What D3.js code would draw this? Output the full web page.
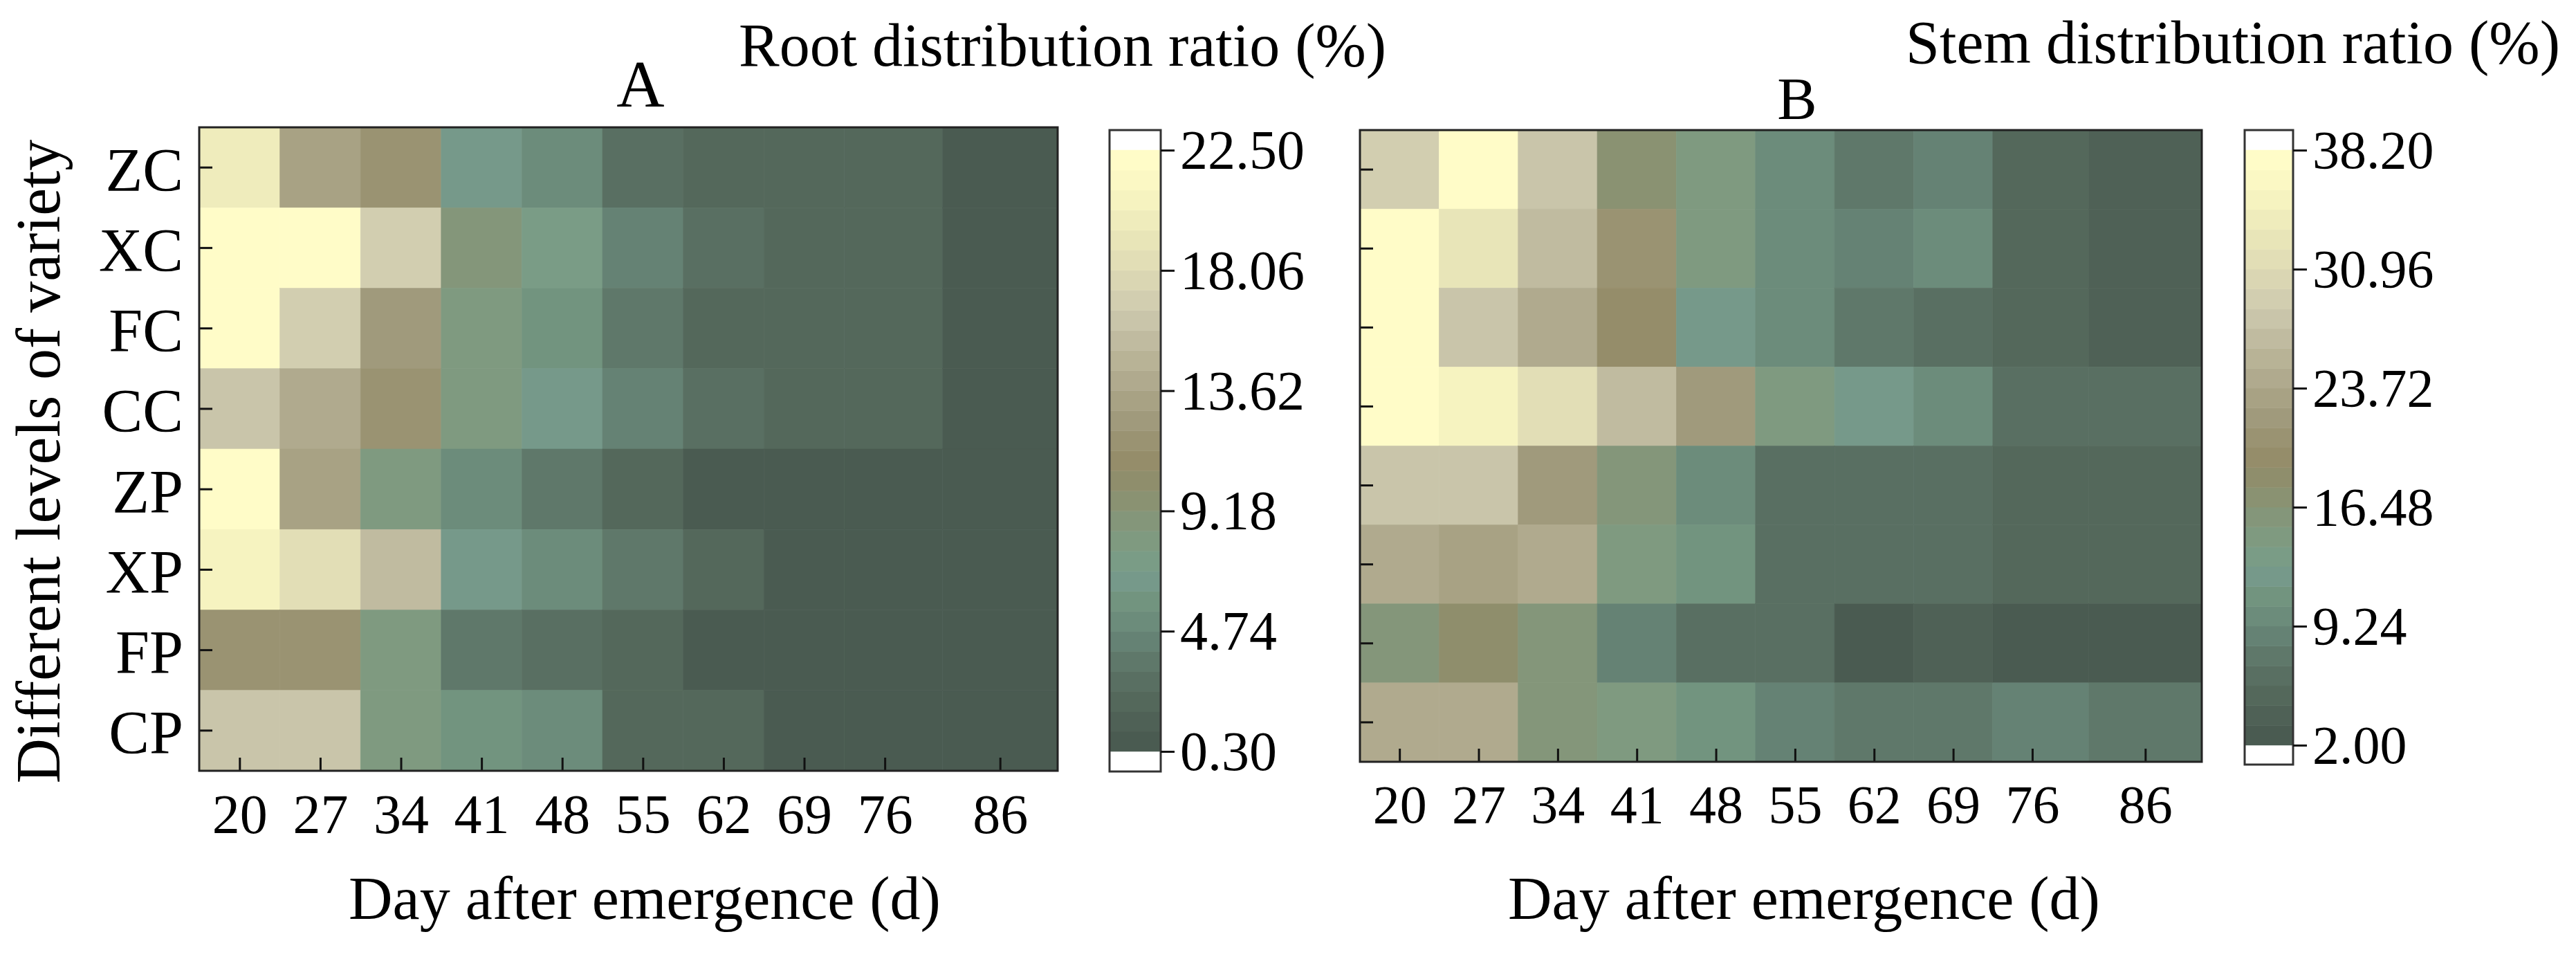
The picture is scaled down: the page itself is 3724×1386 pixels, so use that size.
<!DOCTYPE html>
<html>
<head>
<meta charset="utf-8">
<script src="https://cdn.jsdelivr.net/npm/d3@7"></script>
<style>
  html, body { margin: 0; padding: 0; background: #fff; }
  svg { display: block; }
  text { font-family: "Liberation Serif", "DejaVu Serif", serif; fill: #000; }
</style>
</head>
<body>
<svg id="chart" width="3724" height="1386"></svg>
<script>
// Days after emergence (columns) and variety levels (rows, top to bottom)
const days = [20, 27, 34, 41, 48, 55, 62, 69, 76, 86];
const varieties = ['ZC', 'XC', 'FC', 'CC', 'ZP', 'XP', 'FP', 'CP'];

// Root distribution ratio (%), panel A
const rootRatio = [
  [20.0, 13.2, 11.6, 6.5, 5.0, 2.9, 1.9, 2.1, 2.1, 0.7],
  [22.1, 21.8, 17.0, 9.0, 7.2, 4.3, 2.9, 2.1, 2.1, 0.7],
  [22.1, 17.0, 12.5, 8.0, 5.5, 3.6, 1.9, 2.1, 2.1, 0.7],
  [16.3, 14.0, 11.6, 8.3, 6.5, 4.5, 2.9, 2.1, 2.1, 0.7],
  [22.1, 13.4, 8.0, 5.1, 3.6, 2.1, 0.8, 0.8, 0.8, 0.7],
  [20.6, 18.2, 15.2, 6.5, 5.0, 3.3, 2.1, 0.8, 0.8, 0.7],
  [11.5, 11.5, 8.0, 3.6, 3.2, 2.1, 0.8, 0.8, 0.8, 0.7],
  [16.3, 16.2, 8.0, 5.6, 5.1, 2.0, 2.1, 0.8, 0.8, 0.7]
];

// Stem distribution ratio (%), panel B
const stemRatio = [
  [29.1, 37.6, 27.9, 17.1, 14.7, 9.8, 7.4, 8.6, 5.0, 4.4],
  [37.6, 32.8, 26.7, 20.7, 14.7, 9.8, 8.6, 9.8, 5.0, 4.4],
  [37.6, 27.9, 24.8, 19.5, 12.3, 9.8, 7.4, 6.2, 5.0, 4.4],
  [37.6, 35.2, 31.0, 26.7, 21.9, 14.7, 12.3, 9.8, 6.8, 6.2],
  [27.9, 27.9, 21.9, 15.3, 9.8, 6.8, 6.2, 6.2, 5.0, 5.0],
  [24.3, 23.1, 24.5, 14.7, 11.0, 6.8, 6.2, 6.2, 5.0, 5.0],
  [15.9, 17.7, 15.5, 8.6, 6.2, 6.2, 2.6, 3.8, 2.6, 2.6],
  [24.8, 24.0, 15.5, 15.0, 11.0, 8.6, 7.4, 7.4, 8.6, 7.4]
];

// Colour-scale tick labels
const rootTicks = [0.30, 4.74, 9.18, 13.62, 18.06, 22.50];
const stemTicks = [2.00, 9.24, 16.48, 23.72, 30.96, 38.20];

// 30-level palette, low to high
const palette = [
  '#4a5b51', '#4f6156', '#54685b', '#596f62', '#5f786a', '#658274',
  '#6c8c7b', '#72947f', '#76998a', '#7a9c86', '#7f9a80', '#84967a',
  '#8a9272', '#8f8e6c', '#958d6a', '#9a9372', '#a09a7c', '#a8a284',
  '#b0aa8e', '#b8b396', '#c0bba0', '#c9c5aa', '#d2ceb0', '#dad6b3',
  '#e2deb6', '#e8e5b8', '#efecbc', '#f6f3c0', '#fbf8c4', '#fffcc8'
];

const svg = d3.select('#chart');
const font = '"Liberation Serif", "DejaVu Serif", serif';

// cell edges: half-way between neighbouring days, half a step past the ends
const bounds = days.map((d, i) => {
  const prev = i > 0 ? days[i - 1] : d - (days[1] - days[0]);
  const next = i < days.length - 1 ? days[i + 1] : d + (d - days[i - 1]);
  return [(prev + d) / 2, (d + next) / 2];
});

function drawPanel(cfg) {
  const g = svg.append('g');
  const x = d3.scaleLinear()
    .domain([bounds[0][0], bounds[bounds.length - 1][1]])
    .range([cfg.left, cfg.right]);
  const y = d3.scaleBand().domain(varieties).range([cfg.top, cfg.bottom]);
  const color = d3.scaleQuantize().domain([cfg.min, cfg.max]).range(palette);

  const cells = [];
  cfg.values.forEach((row, i) => row.forEach((v, j) => cells.push({ row: varieties[i], j, v })));

  g.selectAll('rect.cell').data(cells).join('rect')
    .attr('class', 'cell')
    .attr('x', d => x(bounds[d.j][0]))
    .attr('width', d => x(bounds[d.j][1]) - x(bounds[d.j][0]))
    .attr('y', d => y(d.row))
    .attr('height', y.bandwidth())
    .attr('fill', d => color(d.v))
    .attr('stroke', d => color(d.v))
    .attr('stroke-width', 0.6);

  // axes with inward ticks
  const xAxis = g.append('g')
    .attr('transform', `translate(0,${cfg.bottom})`)
    .call(d3.axisBottom(x).tickValues(days).tickSize(-19).tickPadding(33));
  xAxis.select('.domain').remove();
  xAxis.selectAll('line').attr('stroke', '#111').attr('stroke-width', 3);
  xAxis.selectAll('text')
    .style('font-family', font).style('font-size', cfg.xTickSize + 'px').attr('fill', '#000');

  const yAxis = g.append('g')
    .attr('transform', `translate(${cfg.left},0)`)
    .call(d3.axisLeft(y).tickSize(-19).tickPadding(23));
  yAxis.select('.domain').remove();
  yAxis.selectAll('line').attr('stroke', '#111').attr('stroke-width', 3);
  yAxis.selectAll('text')
    .style('font-family', font).style('font-size', '88px').attr('fill', '#000')
    .attr('dy', '0.37em');
  if (!cfg.yLabels) yAxis.selectAll('text').remove();

  g.append('rect')
    .attr('x', cfg.left).attr('y', cfg.top)
    .attr('width', cfg.right - cfg.left).attr('height', cfg.bottom - cfg.top)
    .attr('fill', 'none').attr('stroke', '#222').attr('stroke-width', 3);

  // panel letter
  g.append('text')
    .attr('x', cfg.letterX).attr('y', cfg.letterY)
    .attr('text-anchor', 'middle')
    .style('font-size', cfg.letterSize + 'px')
    .text(cfg.letter);

  // x title
  g.append('text')
    .attr('x', cfg.xTitleX).attr('y', 1328)
    .attr('text-anchor', 'middle')
    .style('font-size', '88px')
    .text('Day after emergence (d)');

  // colour bar
  const cb = d3.scaleLinear().domain([cfg.min, cfg.max]).range([cfg.cbLow, cfg.cbHigh]);
  const step = (cfg.max - cfg.min) / palette.length;
  const cbg = svg.append('g');
  cbg.append('rect')
    .attr('x', cfg.cbX).attr('y', cfg.cbTop)
    .attr('width', cfg.cbW).attr('height', cfg.cbBottom - cfg.cbTop)
    .attr('fill', '#fff');
  cbg.selectAll('rect.band').data(palette).join('rect')
    .attr('class', 'band')
    .attr('x', cfg.cbX)
    .attr('y', (c, k) => cb(cfg.min + (k + 1) * step))
    .attr('width', cfg.cbW)
    .attr('height', (c, k) => cb(cfg.min + k * step) - cb(cfg.min + (k + 1) * step))
    .attr('fill', c => c)
    .attr('stroke', c => c)
    .attr('stroke-width', 0.5);
  cbg.append('rect')
    .attr('x', cfg.cbX).attr('y', cfg.cbTop)
    .attr('width', cfg.cbW).attr('height', cfg.cbBottom - cfg.cbTop)
    .attr('fill', 'none').attr('stroke', '#333').attr('stroke-width', 3);

  const cbAxis = cbg.append('g')
    .attr('transform', `translate(${cfg.cbX + cfg.cbW},0)`)
    .call(d3.axisRight(cb).tickValues(cfg.ticks).tickFormat(d3.format('.2f'))
      .tickSize(20).tickPadding(8));
  cbAxis.select('.domain').remove();
  cbAxis.selectAll('line').attr('stroke', '#111').attr('stroke-width', 3);
  cbAxis.selectAll('text')
    .style('font-family', font).style('font-size', cfg.cbTickSize + 'px').attr('fill', '#000')
    .attr('dy', '0.33em');

  cbg.append('text')
    .attr('x', cfg.cbTitleX).attr('y', cfg.cbTitleY)
    .attr('text-anchor', 'middle')
    .style('font-size', '88px')
    .text(cfg.cbTitle);
}

drawPanel({
  values: rootRatio, min: 0.30, max: 22.50, ticks: rootTicks,
  left: 288, right: 1529, top: 184, bottom: 1114, yLabels: true, xTickSize: 80,
  letter: 'A', letterX: 926, letterY: 154, letterSize: 96, xTitleX: 932,
  cbX: 1604, cbW: 74, cbTop: 188, cbBottom: 1115, cbLow: 1086, cbHigh: 217, cbTickSize: 80,
  cbTitle: 'Root distribution ratio (%)', cbTitleX: 1536, cbTitleY: 95
});

drawPanel({
  values: stemRatio, min: 2.00, max: 38.20, ticks: stemTicks,
  left: 1966, right: 3183, top: 188, bottom: 1101, yLabels: false, xTickSize: 78,
  letter: 'B', letterX: 2598, letterY: 172, letterSize: 86, xTitleX: 2608,
  cbX: 3245, cbW: 70, cbTop: 188, cbBottom: 1105, cbLow: 1077, cbHigh: 217, cbTickSize: 78,
  cbTitle: 'Stem distribution ratio (%)', cbTitleX: 3228, cbTitleY: 91
});

// y title, shared
svg.append('text')
  .attr('transform', 'translate(86,667) rotate(-90)')
  .attr('text-anchor', 'middle')
  .style('font-size', '90px')
  .text('Different levels of variety');
</script>
</body>
</html>
